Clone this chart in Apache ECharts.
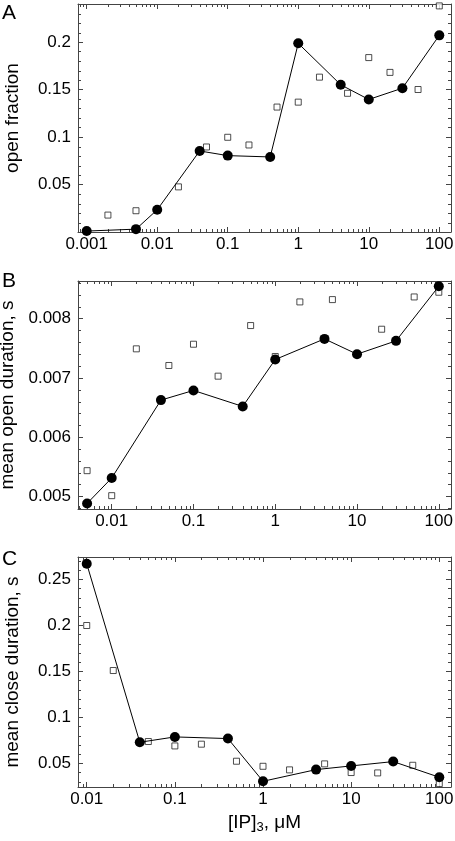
<!DOCTYPE html>
<html>
<head>
<meta charset="utf-8">
<script src="https://cdn.jsdelivr.net/npm/echarts@6/dist/echarts.min.js"></script>
<style>
html,body{margin:0;padding:0;background:#fff;}
#chart{width:455px;height:841px;}
</style>
</head>
<body>
<div id="chart"></div>
<script>
// ---- Panel A: open fraction ----
const aCircleX = [0.001, 0.005, 0.01, 0.04, 0.1, 0.4, 1, 4, 10, 30, 100];
const aCircleY = [0.001, 0.003, 0.0234, 0.0853, 0.0804, 0.079, 0.1986, 0.155, 0.1395, 0.1514, 0.207];
const aSquareX = [0.002, 0.005, 0.02, 0.05, 0.1, 0.2, 0.5, 1, 2, 5, 10, 20, 50, 100];
const aSquareY = [0.0178, 0.0224, 0.0475, 0.0895, 0.0997, 0.0916, 0.1315, 0.1367, 0.163, 0.146, 0.1836, 0.168, 0.150, 0.238];

// ---- Panel B: mean open duration, s ----
const bCircleX = [0.005, 0.01, 0.04, 0.1, 0.4, 1, 4, 10, 30, 100];
const bCircleY = [0.00488, 0.005309, 0.006624, 0.006787, 0.006517, 0.007309, 0.007657, 0.007399, 0.007624, 0.008545];
const bSquareX = [0.005, 0.01, 0.02, 0.05, 0.1, 0.2, 0.5, 1, 2, 5, 20, 50, 100];
const bSquareY = [0.005433, 0.005011, 0.007489, 0.007208, 0.007567, 0.007028, 0.007882, 0.00736, 0.008281, 0.00832, 0.00782, 0.008365, 0.008444];

// ---- Panel C: mean close duration, s ----
const cCircleX = [0.01, 0.04, 0.1, 0.4, 1, 4, 10, 30, 100];
const cCircleY = [0.2667, 0.0728, 0.0786, 0.0768, 0.0304, 0.0431, 0.0471, 0.0518, 0.0348];
const cSquareX = [0.01, 0.02, 0.05, 0.1, 0.2, 0.5, 1, 2, 5, 10, 20, 50, 100];
const cSquareY = [0.1996, 0.1507, 0.0736, 0.0688, 0.0707, 0.0522, 0.0467, 0.0428, 0.0493, 0.0399, 0.0395, 0.0478, 0.0279];

// axis titles and panel letters
const panelLetters = ['A', 'B', 'C'];
const yTitles = ['open fraction', 'mean open duration, s', 'mean close duration, s'];
const xTitle = '[IP]{s|3}, μM';

// axis ranges
const xRanges = [[0.000753, 146.6], [0.00387, 141], [0.00796, 135.8]];
const yRanges = [[0, 0.24], [0.004786, 0.008634], [0.0242, 0.274]];
const ySplit = [5, 4, 5];
const yMinorStep = [0.01, 0.0002, 0.01];
const yMajorStep = [0.05, 0.001, 0.05];

const FONT = 'Liberation Sans, Arial, Helvetica, sans-serif';
const FRAME = '#444';

const gridBoxes = [
  {left: 78, right: 4, top: 4, height: 228},
  {left: 78, right: 4, top: 281, height: 228},
  {left: 78, right: 4, top: 557, height: 230}
];

function fmt(v) { return String(+(+v).toPrecision(6)); }

function minorLog(min, max) {
  const out = [];
  for (let e = Math.floor(Math.log10(min)); e <= Math.ceil(Math.log10(max)); e++) {
    for (let m = 2; m <= 9; m++) {
      const v = m * Math.pow(10, e);
      if (v > min && v < max) out.push(v);
    }
  }
  return out;
}
function minorLin(min, max, step, major) {
  const out = [];
  for (let k = Math.ceil(min / step - 1e-9); k * step <= max + 1e-12; k++) {
    const v = k * step;
    const r = v / major;
    if (Math.abs(r - Math.round(r)) > 1e-6 && v > min && v < max) out.push(v);
  }
  return out;
}

const xAxis = [], yAxis = [], series = [];
const circX = [aCircleX, bCircleX, cCircleX], circY = [aCircleY, bCircleY, cCircleY];
const sqX = [aSquareX, bSquareX, cSquareX], sqY = [aSquareY, bSquareY, cSquareY];

for (let i = 0; i < 3; i++) {
  const [xmin, xmax] = xRanges[i];
  const [ymin, ymax] = yRanges[i];
  const common = {
    axisLine: {show: true, onZero: false, lineStyle: {color: FRAME, width: 1}},
    axisTick: {show: true, inside: true, length: 5, lineStyle: {color: FRAME}},
    splitLine: {show: false},
    minorTick: {show: false}
  };
  xAxis.push(Object.assign({}, common, {
    gridIndex: i, type: 'log', logBase: 10, min: xmin, max: xmax, position: 'bottom',
    axisLabel: {fontSize: 17, fontFamily: FONT, color: '#000', margin: 4,
      showMinLabel: false, showMaxLabel: false, formatter: fmt},
    name: i === 2 ? xTitle : '', nameLocation: 'middle', nameGap: 25,
    nameTextStyle: {fontSize: 19, fontFamily: FONT, color: '#000',
      rich: {s: {fontSize: 13, fontFamily: FONT, color: '#000', padding: [9, 0, 0, 0]}}}
  }));
  xAxis.push(Object.assign({}, common, {
    gridIndex: i, type: 'log', logBase: 10, min: xmin, max: xmax, position: 'top',
    axisLabel: {show: false}
  }));
  yAxis.push(Object.assign({}, common, {
    gridIndex: i, type: 'value', min: ymin, max: ymax, splitNumber: ySplit[i], position: 'left',
    axisLabel: {fontSize: 17, fontFamily: FONT, color: '#000', margin: 7,
      showMinLabel: false, showMaxLabel: false},
    name: yTitles[i], nameLocation: 'middle', nameGap: 56,
    nameTextStyle: {fontSize: 19, fontFamily: FONT, color: '#000'}
  }));
  yAxis.push(Object.assign({}, common, {
    gridIndex: i, type: 'value', min: ymin, max: ymax, splitNumber: ySplit[i], position: 'right',
    axisLabel: {show: false}
  }));

  const xi = 2 * i, yi = 2 * i;

  series.push({
    type: 'custom', xAxisIndex: xi, yAxisIndex: yi, silent: true, z: 1,
    data: minorLog(xmin, xmax).map(v => [v, ymin]),
    renderItem: function (params, api) {
      const cs = params.coordSys;
      const p = api.coord([api.value(0), api.value(1)]);
      const x = Math.round(p[0]) + 0.5;
      const st = {stroke: FRAME, lineWidth: 1};
      return {type: 'group', children: [
        {type: 'line', shape: {x1: x, y1: cs.y + cs.height, x2: x, y2: cs.y + cs.height - 3}, style: st},
        {type: 'line', shape: {x1: x, y1: cs.y, x2: x, y2: cs.y + 3}, style: st}
      ]};
    }
  });
  series.push({
    type: 'custom', xAxisIndex: xi, yAxisIndex: yi, silent: true, z: 1,
    data: minorLin(ymin, ymax, yMinorStep[i], yMajorStep[i]).map(v => [xmin, v]),
    renderItem: function (params, api) {
      const cs = params.coordSys;
      const p = api.coord([api.value(0), api.value(1)]);
      const y = Math.round(p[1]) + 0.5;
      const st = {stroke: FRAME, lineWidth: 1};
      return {type: 'group', children: [
        {type: 'line', shape: {x1: cs.x, y1: y, x2: cs.x + 3, y2: y}, style: st},
        {type: 'line', shape: {x1: cs.x + cs.width, y1: y, x2: cs.x + cs.width - 3, y2: y}, style: st}
      ]};
    }
  });

  series.push({
    type: 'scatter', xAxisIndex: xi, yAxisIndex: yi, clip: false, z: 3,
    symbol: 'rect', symbolSize: 6,
    itemStyle: {color: '#fff', borderColor: '#222', borderWidth: 1},
    data: sqX[i].map((x, k) => [x, sqY[i][k]])
  });
  series.push({
    type: 'line', xAxisIndex: xi, yAxisIndex: yi, clip: false, z: 4,
    symbol: 'circle', symbolSize: 10, showSymbol: true,
    lineStyle: {color: '#000', width: 1},
    itemStyle: {color: '#000', borderWidth: 0},
    data: circX[i].map((x, k) => [x, circY[i][k]])
  });
}

const chart = echarts.init(document.getElementById('chart'), null, {renderer: 'canvas'});
chart.setOption({
  animation: false,
  backgroundColor: '#fff',
  grid: gridBoxes.map(g => Object.assign({containLabel: false, outerBoundsMode: 'none'}, g)),
  xAxis: xAxis,
  yAxis: yAxis,
  series: series,
  graphic: [
    {type: 'text', left: 2, top: 3, style: {text: panelLetters[0], fontSize: 21, fontFamily: FONT, fill: '#000'}},
    {type: 'text', left: 2, top: 271, style: {text: panelLetters[1], fontSize: 21, fontFamily: FONT, fill: '#000'}},
    {type: 'text', left: 2, top: 549, style: {text: panelLetters[2], fontSize: 21, fontFamily: FONT, fill: '#000'}}
  ]
});
</script>
</body>
</html>
